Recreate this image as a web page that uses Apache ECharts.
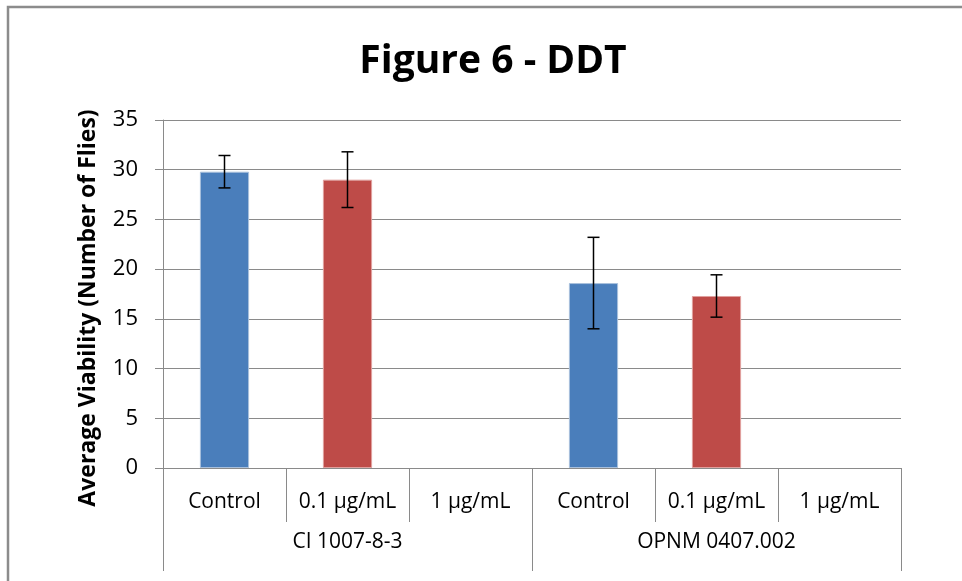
<!DOCTYPE html>
<html>
<head>
<meta charset="utf-8">
<script src="https://cdn.jsdelivr.net/npm/echarts@6/dist/echarts.min.js"></script>
<style>
html,body{margin:0;padding:0;background:#fff;}
#chart{width:962px;height:581px;}
</style>
</head>
<body>
<div id="chart"></div>
<script>
const titleText = 'Figure 6 - DDT';
const yAxisTitle = 'Average Viability (Number of Flies)';
const categories = ['Control', '0.1 µg/mL', '1 µg/mL', 'Control', '0.1 µg/mL', '1 µg/mL'];
const groups = ['CI 1007-8-3', 'OPNM 0407.002'];
const means = [29.8, 29.0, null, 18.6, 17.3, null];
const errors = [1.63, 2.8, null, 4.6, 2.13, null];
const treatmentColors = ['#4a7ebb', '#be4b48', '#98b954'];
const yTicks = [0, 5, 10, 15, 20, 25, 30, 35];

const FONT = '"Open Sans", Lato, sans-serif';
const gridColor = '#8a8a8a';

const controlData = means.map((v, i) => (i % 3 === 0 && v != null) ? v : '-');
const lowDoseData = means.map((v, i) => (i % 3 === 1 && v != null) ? v : '-');
const errData = [];
means.forEach((v, i) => { if (v != null && errors[i] != null) errData.push([i, v - errors[i], v + errors[i]]); });

const chart = echarts.init(document.getElementById('chart'), null, {renderer: 'canvas'});
chart.setOption({
  animation: false,
  backgroundColor: '#fff',
  title: {
    text: titleText, left: 488, top: 37, textAlign: 'center',
    textStyle: {fontFamily: FONT, fontWeight: 'bold', fontSize: 39, color: '#000'}
  },
  grid: {left: 163, right: 61, top: 120, bottom: 113, containLabel: false},
  xAxis: [
    {
      type: 'category', data: categories, position: 'bottom',
      axisLine: {show: true, lineStyle: {color: gridColor, width: 1}},
      axisTick: {show: true, interval: 0, length: 54, lineStyle: {color: gridColor}},
      axisLabel: {interval: 0, margin: 24, fontFamily: FONT, fontSize: 21, color: '#000'}
    },
    {
      type: 'category', data: groups, position: 'bottom',
      axisLine: {show: false},
      axisTick: {show: true, interval: 0, length: 103, lineStyle: {color: gridColor}},
      axisLabel: {interval: 0, margin: 64, fontFamily: FONT, fontSize: 21, color: '#000'}
    }
  ],
  yAxis: {
    type: 'value', min: yTicks[0], max: yTicks[yTicks.length - 1], interval: yTicks[1] - yTicks[0],
    axisLine: {show: true, lineStyle: {color: gridColor}},
    axisTick: {show: true, length: 8, lineStyle: {color: gridColor}},
    splitLine: {show: true, lineStyle: {color: gridColor, width: 1}},
    axisLabel: {margin: 25, fontFamily: FONT, fontSize: 22, color: '#000'}
  },
  graphic: [
    {
      type: 'polyline', silent: true,
      shape: {points: [[8, 600], [8, 7], [980, 7]]},
      style: {stroke: '#8c8c8c', lineWidth: 2.5, fill: null}
    },
    {
      type: 'text', x: 88, y: 308, rotation: Math.PI / 2,
      style: {text: yAxisTitle, fontFamily: FONT, fontWeight: 'bold', fontSize: 23,
              fill: '#000', align: 'center', verticalAlign: 'middle'}
    }
  ],
  series: [
    {
      type: 'bar', name: 'Control', data: controlData, barWidth: '40%', barGap: '-100%',
      itemStyle: {color: treatmentColors[0], borderColor: '#a9c0dc', borderWidth: 1}
    },
    {
      type: 'bar', name: '0.1 µg/mL', data: lowDoseData, barWidth: '40%', barGap: '-100%',
      itemStyle: {color: treatmentColors[1], borderColor: '#e0a09e', borderWidth: 1}
    },
    {
      type: 'custom', name: 'error', data: errData, z: 10,
      renderItem: function (params, api) {
        const x = api.value(0);
        const lo = api.coord([x, api.value(1)]);
        const hi = api.coord([x, api.value(2)]);
        const hw = 6;
        const st = {stroke: '#000', lineWidth: 1.5};
        return {
          type: 'group',
          children: [
            {type: 'line', shape: {x1: hi[0], y1: hi[1], x2: lo[0], y2: lo[1]}, style: st},
            {type: 'line', shape: {x1: hi[0] - hw, y1: hi[1], x2: hi[0] + hw, y2: hi[1]}, style: st},
            {type: 'line', shape: {x1: lo[0] - hw, y1: lo[1], x2: lo[0] + hw, y2: lo[1]}, style: st}
          ]
        };
      }
    }
  ]
});
</script>
</body>
</html>
